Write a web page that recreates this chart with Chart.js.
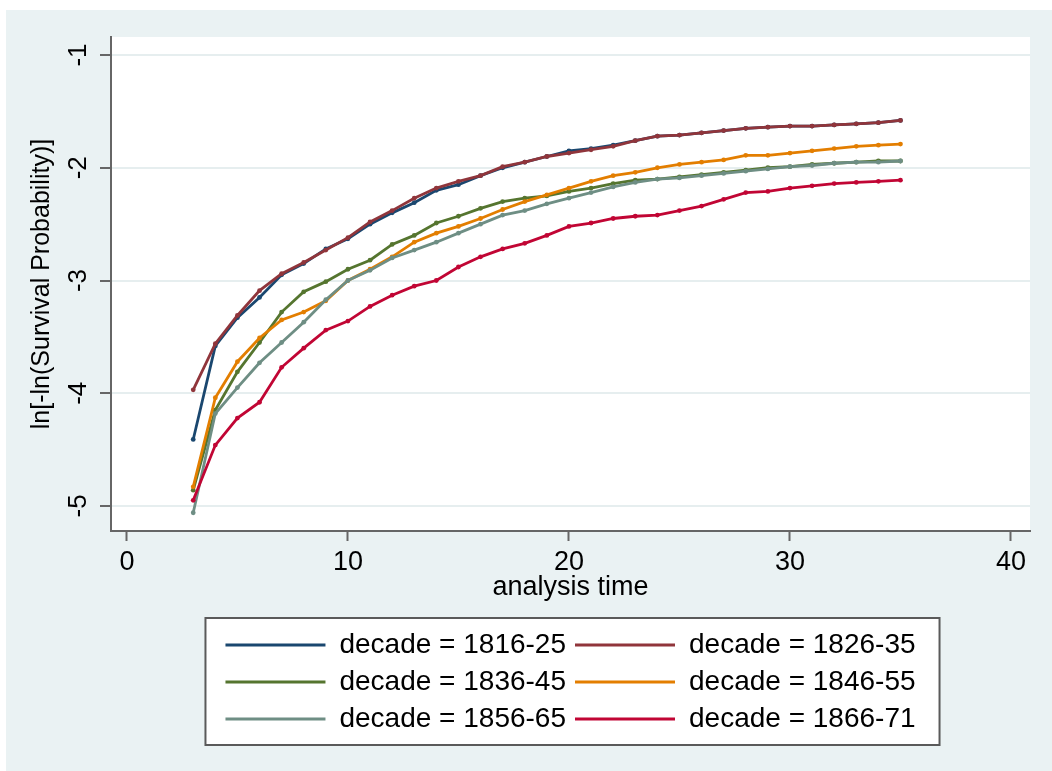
<!DOCTYPE html>
<html>
<head>
<meta charset="utf-8">
<script src="https://cdn.jsdelivr.net/npm/chart.js@4/dist/chart.umd.min.js"></script>
<style>
html,body{margin:0;padding:0;background:#ffffff;}
#wrap{width:1052px;height:771px;position:relative;}
</style>
</head>
<body>
<div id="wrap"><canvas id="c"></canvas></div>
<script>
// ---- data ----
const analysisTime = [3,4,5,6,7,8,9,10,11,12,13,14,15,16,17,18,19,20,21,22,23,24,25,26,27,28,29,30,31,32,33,34,35];
const decadeLabels = ['decade = 1816-25','decade = 1826-35','decade = 1836-45','decade = 1846-55','decade = 1856-65','decade = 1866-71'];
const d1816 = [-4.41,-3.58,-3.33,-3.15,-2.95,-2.85,-2.72,-2.63,-2.50,-2.40,-2.31,-2.20,-2.15,-2.07,-2.00,-1.95,-1.90,-1.85,-1.83,-1.80,-1.76,-1.72,-1.71,-1.69,-1.67,-1.65,-1.64,-1.63,-1.63,-1.62,-1.61,-1.60,-1.58];
const d1826 = [-3.97,-3.56,-3.31,-3.09,-2.94,-2.84,-2.73,-2.62,-2.48,-2.38,-2.27,-2.18,-2.12,-2.07,-1.99,-1.95,-1.90,-1.87,-1.84,-1.81,-1.76,-1.72,-1.71,-1.69,-1.67,-1.65,-1.64,-1.63,-1.63,-1.62,-1.61,-1.60,-1.58];
const d1836 = [-4.86,-4.15,-3.81,-3.55,-3.28,-3.10,-3.01,-2.90,-2.82,-2.68,-2.60,-2.49,-2.43,-2.36,-2.30,-2.27,-2.25,-2.21,-2.18,-2.14,-2.11,-2.10,-2.08,-2.06,-2.04,-2.02,-2.00,-1.99,-1.97,-1.96,-1.95,-1.94,-1.94];
const d1846 = [-4.83,-4.04,-3.72,-3.51,-3.35,-3.28,-3.18,-3.00,-2.90,-2.79,-2.66,-2.58,-2.52,-2.45,-2.37,-2.30,-2.24,-2.18,-2.12,-2.07,-2.04,-2.00,-1.97,-1.95,-1.93,-1.89,-1.89,-1.87,-1.85,-1.83,-1.81,-1.80,-1.79];
const d1856 = [-5.06,-4.18,-3.95,-3.73,-3.55,-3.37,-3.17,-3.00,-2.91,-2.80,-2.73,-2.66,-2.58,-2.50,-2.42,-2.38,-2.32,-2.27,-2.22,-2.17,-2.13,-2.10,-2.09,-2.07,-2.05,-2.03,-2.01,-1.99,-1.98,-1.96,-1.95,-1.95,-1.94];
const d1866 = [-4.95,-4.46,-4.22,-4.08,-3.77,-3.60,-3.44,-3.36,-3.23,-3.13,-3.05,-3.00,-2.88,-2.79,-2.72,-2.67,-2.60,-2.52,-2.49,-2.45,-2.43,-2.42,-2.38,-2.34,-2.28,-2.22,-2.21,-2.18,-2.16,-2.14,-2.13,-2.12,-2.11];
const seriesValues = [d1816, d1826, d1836, d1846, d1856, d1866];
const xTickValues = [0, 10, 20, 30, 40];
const yTickValues = [-5, -4, -3, -2, -1];
const xTitle = 'analysis time';
const yTitle = 'ln[-ln(Survival Probability)]';

// ---- styles ----
const seriesColors = ['#1a476f','#90353b','#55752f','#e37e00','#6e8e84','#c10534'];
const FONT = "'Liberation Sans', Arial, Helvetica, sans-serif";
const AXIS = '#666666';
Chart.defaults.font.family = FONT;

const bgPlugin = {
  id: 'bgPlugin',
  beforeDraw(chart) {
    const {ctx, width, height, chartArea: a} = chart;
    ctx.save();
    ctx.fillStyle = '#ffffff';
    ctx.fillRect(0, 0, width, height);
    ctx.fillStyle = '#eaf2f3';
    ctx.fillRect(6, 10, width - 6, height - 10);
    ctx.fillStyle = '#ffffff';
    ctx.fillRect(a.left, a.top, a.right - a.left, a.bottom - a.top);
    const lg = chart.legend;
    if (lg && lg.legendHitBoxes && lg.legendHitBoxes.length) {
      let l = Infinity, r = -Infinity, t = Infinity, b = -Infinity;
      lg.legendHitBoxes.forEach(h => {
        l = Math.min(l, h.left); r = Math.max(r, h.left + h.width);
        t = Math.min(t, h.top); b = Math.max(b, h.top + h.height);
      });
      const x0 = l - 20, y0 = t - 13, w = (r + 24) - x0, hgt = (b + 12) - y0;
      ctx.fillStyle = '#ffffff';
      ctx.fillRect(x0, y0, w, hgt);
      ctx.strokeStyle = '#5a5a5a';
      ctx.lineWidth = 2;
      ctx.strokeRect(x0, y0, w, hgt);
    }
    ctx.restore();
  }
};

new Chart(document.getElementById('c'), {
  type: 'line',
  data: {
    datasets: decadeLabels.map((lab, i) => ({
      label: lab,
      data: analysisTime.map((t, j) => ({x: t, y: seriesValues[i][j]})),
      borderColor: seriesColors[i],
      backgroundColor: seriesColors[i],
      borderWidth: 2.8,
      pointRadius: 2.4,
      pointBorderWidth: 0,
      pointHoverRadius: 2.4,
      tension: 0,
      fill: false,
      order: 6 - i
    }))
  },
  options: {
    responsive: true,
    maintainAspectRatio: false,
    animation: false,
    events: [],
    layout: {padding: {left: 6, right: 22, top: 37, bottom: 28}},
    plugins: {
      tooltip: {enabled: false},
      legend: {
        position: 'bottom',
        fullSize: false,
        labels: {
          font: {family: FONT, size: 28},
          color: '#000000',
          boxWidth: 100,
          boxHeight: 3,
          padding: 9,
          sort: (a, b) => a.datasetIndex - b.datasetIndex,
          generateLabels: (chart) => Chart.defaults.plugins.legend.labels.generateLabels(chart)
            .map(it => Object.assign(it, {lineWidth: 0}))
        }
      }
    },
    scales: {
      x: {
        type: 'linear',
        min: -0.72,
        max: 40.86,
        afterBuildTicks: s => { s.ticks = xTickValues.map(v => ({value: v})); },
        afterFit: s => { s.height = 91; },
        grid: {drawOnChartArea: false, drawTicks: true, tickLength: 10, tickColor: AXIS, tickWidth: 2},
        border: {display: true, color: AXIS, width: 2},
        ticks: {font: {family: FONT, size: 27}, color: '#000000', padding: 5, maxRotation: 0, minRotation: 0},
        title: {display: true, text: xTitle, font: {family: FONT, size: 27}, color: '#000000', padding: {top: 0, bottom: 18}}
      },
      y: {
        type: 'linear',
        min: -5.222,
        max: -0.84,
        afterBuildTicks: s => { s.ticks = yTickValues.map(v => ({value: v})); },
        afterFit: s => { s.width = 105; },
        grid: {color: '#e6eeef', lineWidth: 2, drawTicks: true, tickLength: 11, tickColor: AXIS, tickWidth: 2},
        border: {display: true, color: AXIS, width: 2},
        ticks: {font: {family: FONT, size: 26}, color: '#000000', minRotation: 90, maxRotation: 90, crossAlign: 'center', padding: 10},
        title: {display: true, text: yTitle, font: {family: FONT, size: 25}, color: '#000000', padding: {top: 21, bottom: 0}}
      }
    }
  },
  plugins: [bgPlugin]
});
</script>
</body>
</html>
